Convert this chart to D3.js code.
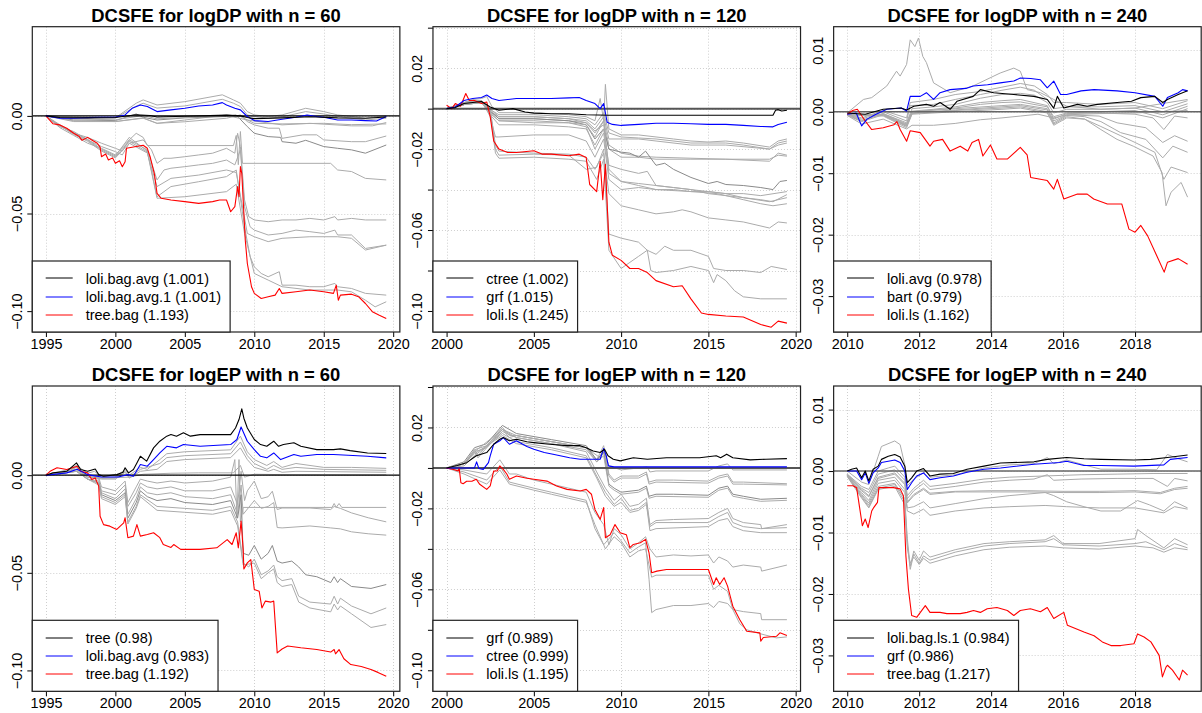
<!DOCTYPE html>
<html>
<head>
<meta charset="utf-8">
<script src="https://cdn.jsdelivr.net/npm/d3@7"></script>
<style>
  body { margin: 0; background: #fff; }
  svg { display: block; }
  text { font-family: "Liberation Sans", Arial, Helvetica, sans-serif; }
</style>
</head>
<body>
<div id="chart"></div>
<script>
// ---- titles, legends, ticks ----
const titles = [
  "DCSFE for logDP with n = 60", "DCSFE for logDP with n = 120", "DCSFE for logDP with n = 240",
  "DCSFE for logEP with n = 60", "DCSFE for logEP with n = 120", "DCSFE for logEP with n = 240"
];
const dp60Legend = ["loli.bag.avg (1.001)", "loli.bag.avg.1 (1.001)", "tree.bag (1.193)"];
const dp120Legend = ["ctree (1.002)", "grf (1.015)", "loli.ls (1.245)"];
const dp240Legend = ["loli.avg (0.978)", "bart (0.979)", "loli.ls (1.162)"];
const ep60Legend = ["tree (0.98)", "loli.bag.avg (0.983)", "tree.bag (1.192)"];
const ep120Legend = ["grf (0.989)", "ctree (0.999)", "loli.ls (1.195)"];
const ep240Legend = ["loli.bag.ls.1 (0.984)", "grf (0.986)", "tree.bag (1.217)"];

const xTicks60 = [1995, 2000, 2005, 2010, 2015, 2020];
const xTicks120 = [2000, 2005, 2010, 2015, 2020];
const xTicks240 = [2010, 2012, 2014, 2016, 2018];
const yTicks60 = [-0.10, -0.05, 0.00];
const yTicks120 = [-0.10, -0.08, -0.06, -0.04, -0.02, 0.00, 0.02, 0.04];
const yLabels120 = [-0.10, -0.06, -0.02, 0.02];
const yTicks240 = [-0.03, -0.02, -0.01, 0.00, 0.01];
const yLim60 = [-0.1049, 0.0399];
const yLim120 = [-0.1048, 0.0349];
const yLim240 = [-0.0340, 0.0120];

// ---- logDP, n = 60 ----
const dp60Best = [[1995,0],[1996,-0.0008],[1998,-0.0010],[2000,-0.0008],[2001.5,0.0006],[2002.5,0.0002],[2003,-0.0006],[2005,-0.0002],[2008,0.0004],[2009,0],[2009.5,-0.0008],[2010,-0.0014],[2012,-0.0010],[2014,-0.0004],[2016,-0.0010],[2018,-0.0012],[2019.5,-0.0006]];
const dp60Second = [[1995,0],[1996,-0.0012],[1997,-0.0012],[1998,-0.0009],[1999,-0.0007],[2000,-0.0007],[2000.7,0.0005],[2001.2,0.0039],[2001.8,0.0056],[2002.3,0.0048],[2003,0.0022],[2004,0.0031],[2005,0.0039],[2006,0.0051],[2007,0.0056],[2007.7,0.0068],[2008,0.0056],[2008.6,0.0039],[2009,0.0031],[2009.5,-0.0003],[2010,-0.0024],[2011,-0.0029],[2012,-0.0017],[2013,-0.0007],[2013.8,0.0005],[2014.5,-0.0003],[2015,-0.0007],[2016,-0.0021],[2017,-0.0021],[2018,-0.0024],[2018.8,-0.0026],[2019.5,-0.0003]];
const dp60Worst = [[1995,0],[1995.5,-0.0040],[1996,-0.0046],[1996.5,-0.0063],[1997,-0.0089],[1997.4,-0.0106],[1997.6,-0.0125],[1998,-0.0110],[1998.3,-0.0123],[1998.7,-0.0140],[1998.9,-0.0160],[1999,-0.0209],[1999.3,-0.0195],[1999.5,-0.0226],[1999.8,-0.0215],[2000,-0.0243],[2000.3,-0.0230],[2000.5,-0.0260],[2000.7,-0.0235],[2000.8,-0.0166],[2001.5,-0.0157],[2002,-0.0150],[2002.3,-0.0166],[2002.5,-0.0209],[2002.8,-0.0294],[2003,-0.0397],[2003.3,-0.0422],[2004,-0.0431],[2005,-0.0439],[2006,-0.0448],[2007,-0.0439],[2007.5,-0.0431],[2008,-0.0431],[2008.3,-0.0491],[2008.6,-0.0465],[2008.8,-0.0362],[2008.9,-0.0414],[2009.0,-0.0260],[2009.1,-0.0294],[2009.2,-0.0431],[2009.35,-0.0636],[2009.5,-0.0756],[2009.8,-0.0875],[2010,-0.0909],[2010.5,-0.0935],[2011,-0.0926],[2011.5,-0.0918],[2011.8,-0.0884],[2012,-0.0909],[2013,-0.0901],[2014,-0.0892],[2015,-0.0901],[2015.7,-0.0909],[2015.9,-0.0867],[2016.05,-0.0944],[2016.2,-0.0918],[2017,-0.0913],[2017.5,-0.0926],[2018,-0.0961],[2018.5,-0.1003],[2019,-0.1021],[2019.5,-0.1038]];
const dp60Gray = [
  [[1995,0],[1997,-0.0005],[2000,-0.0010],[2001.5,0.0065],[2002,0.0082],[2003,0.0056],[2005,0.0073],[2007.7,0.0108],[2008.5,0.0082],[2009,0.0065],[2009.5,0.0022],[2010,0.0005],[2011,-0.0003],[2012,0.0005],[2013.7,0.0039],[2015,0.0022],[2016,0.0005],[2017,-0.0003],[2018,-0.0012],[2019.5,0]],
  [[1995,0],[1997,-0.0008],[2000,-0.0012],[2001.5,0.0050],[2002,0.0065],[2003,0.0040],[2005,0.0051],[2007.7,0.0085],[2008.5,0.0065],[2009,0.0048],[2009.5,0.0005],[2010,-0.0003],[2011,-0.0012],[2012,-0.0005],[2013.7,0.0022],[2015,0.0010],[2016,-0.0003],[2018,-0.0021],[2019.5,-0.0012]],
  [[1995,0],[1997,-0.0029],[2000,-0.0029],[2002,-0.0012],[2003,-0.0038],[2005,-0.0021],[2008,0.0005],[2009,-0.0003],[2010,-0.0038],[2012,-0.0041],[2015,-0.0038],[2017,-0.0045],[2019.5,-0.0041]],
  [[1995,0],[1997,-0.0021],[2000,-0.0024],[2001.5,0.0010],[2002,-0.0007],[2003,-0.0021],[2005,-0.0010],[2008,-0.0003],[2008.7,0.0005],[2009.5,-0.0055],[2010,-0.0089],[2011,-0.0106],[2011.9,-0.0110],[2012,-0.0132],[2013,-0.0140],[2013.7,-0.0125],[2014,-0.0132],[2015,-0.0157],[2016,-0.0166],[2017,-0.0174],[2018,-0.0191],[2019.5,-0.0149]],
  [[1995,0],[1997,-0.0025],[2000,-0.0029],[2002,-0.0010],[2003,-0.0038],[2005,-0.0030],[2008,-0.0012],[2009,0.0005],[2009.5,-0.0029],[2010,-0.0046],[2011,-0.0063],[2011.8,-0.0063],[2012,-0.0115],[2013.5,-0.0097],[2014.5,-0.0097],[2015,-0.0123],[2017,-0.0132],[2018,-0.0132],[2019.5,-0.0103]],
  [[1995,0],[1997,-0.0015],[2000,-0.0020],[2002,0.0002],[2003,-0.0015],[2008,0.0002],[2009.5,-0.0021],[2012,-0.0046],[2014,-0.0038],[2017,-0.0051],[2018.5,-0.0051],[2019.5,-0.0034]],
  [[1995,0],[1996,-0.0050],[1997,-0.0089],[1998,-0.0110],[1999,-0.0140],[2000,-0.0166],[2000.5,-0.0180],[2001,-0.0123],[2001.5,-0.0089],[2002,-0.0110],[2002.3,-0.0152],[2008.5,-0.0152],[2008.7,-0.0100],[2008.85,-0.0250],[2009,-0.0080],[2009.15,-0.0243],[2015.5,-0.0243],[2016,-0.0277],[2017,-0.0285],[2018,-0.0320],[2019.5,-0.0328]],
  [[1995,0],[1996,-0.0055],[1997,-0.0080],[1998,-0.0123],[1999,-0.0157],[2000,-0.0183],[2000.5,-0.0200],[2001,-0.0140],[2002,-0.0123],[2002.6,-0.0174],[2003,-0.0243],[2003.5,-0.0217],[2004,-0.0217],[2005,-0.0209],[2006,-0.0200],[2007,-0.0191],[2008,-0.0166],[2008.6,-0.0191],[2008.8,-0.0089],[2009.0,-0.0157],[2009.3,-0.0431],[2009.6,-0.0516],[2010,-0.0533],[2011,-0.0542],[2012,-0.0533],[2013,-0.0533],[2014,-0.0525],[2015,-0.0533],[2015.8,-0.0516],[2016,-0.0533],[2017,-0.0525],[2018,-0.0533],[2019.5,-0.0533]],
  [[1995,0],[1996,-0.0060],[1997,-0.0100],[1998,-0.0140],[1999,-0.0166],[2000,-0.0200],[2001,-0.0123],[2002.3,-0.0174],[2003,-0.0328],[2003.5,-0.0277],[2004,-0.0268],[2005,-0.0260],[2006,-0.0251],[2007,-0.0243],[2008,-0.0226],[2008.6,-0.0251],[2009,-0.0174],[2009.3,-0.0465],[2009.7,-0.0568],[2010,-0.0585],[2011,-0.0610],[2012,-0.0602],[2013,-0.0585],[2014,-0.0593],[2015,-0.0602],[2015.8,-0.0585],[2016,-0.0610],[2017,-0.0610],[2018,-0.0679],[2019.5,-0.0662]],
  [[1995,0],[1996,-0.0050],[1997,-0.0095],[1998,-0.0130],[1999,-0.0180],[2000,-0.0215],[2001,-0.0140],[2002.3,-0.0190],[2003,-0.0362],[2004,-0.0320],[2006,-0.0303],[2008,-0.0277],[2008.7,-0.0290],[2009.5,-0.0602],[2010,-0.0619],[2011,-0.0644],[2012,-0.0627],[2014,-0.0619],[2016,-0.0619],[2017,-0.0627],[2018,-0.0687],[2019.5,-0.0662]],
  [[1995,0],[1996,-0.0045],[1997,-0.0085],[1998,-0.0120],[1999,-0.0170],[2000,-0.0205],[2001,-0.0110],[2002.3,-0.0180],[2003,-0.0414],[2004,-0.0362],[2006,-0.0337],[2008,-0.0311],[2008.7,-0.0277],[2009.3,-0.0568],[2009.7,-0.0721],[2010,-0.0773],[2010.5,-0.0807],[2011,-0.0824],[2011.8,-0.0798],[2012,-0.0867],[2013,-0.0867],[2014,-0.0875],[2015,-0.0875],[2015.8,-0.0858],[2016,-0.0875],[2017,-0.0884],[2018,-0.0909],[2019.5,-0.0918]],
  [[1995,0],[1996,-0.0050],[1997,-0.0090],[1998,-0.0125],[1999,-0.0175],[2000,-0.0210],[2001,-0.0130],[2002.3,-0.0185],[2003,-0.0422],[2005,-0.0414],[2008,-0.0388],[2008.7,-0.0350],[2009.3,-0.0602],[2010,-0.0807],[2011,-0.0841],[2012,-0.0875],[2014,-0.0892],[2016,-0.0892],[2017,-0.0901],[2018,-0.0944],[2018.7,-0.0978],[2019.5,-0.0952]]
];

// ---- logDP, n = 120 ----
const dp120Best = [[2000,0],[2000.5,0.0005],[2001,0.0025],[2001.5,0.003],[2002,0.0035],[2002.5,0.0008],[2003,-0.0008],[2003.8,0],[2004.5,-0.0017],[2005,-0.0022],[2006,-0.0025],[2007,-0.0025],[2008,-0.003],[2009.3,-0.0033],[2018.7,-0.0033],[2018.85,-0.0008],[2019,-0.0005],[2019.2,-0.0012],[2019.5,-0.0008]];
const dp120Second = [[2000,0],[2000.5,0.0008],[2001,0.004],[2001.5,0.005],[2002,0.0055],[2002.3,0.0067],[2002.6,0.005],[2003,0.004],[2004,0.005],[2005,0.005],[2006,0.005],[2007,0.0053],[2007.6,0.0055],[2008,0.004],[2008.5,0.0025],[2008.8,0],[2009,0.0025],[2009.2,-0.0067],[2009.5,-0.0078],[2010,-0.0083],[2011,-0.0078],[2012,-0.0072],[2013,-0.0072],[2014,-0.0075],[2015,-0.0078],[2016,-0.0078],[2017,-0.0083],[2018,-0.0088],[2018.7,-0.009],[2019,-0.0078],[2019.5,-0.0067]];
const dp120Worst = [[2000,0.0017],[2000.3,0],[2000.5,0.0025],[2000.8,0.0012],[2001.1,0.0075],[2001.3,0.004],[2001.6,0.004],[2002,0.0025],[2002.3,0.0033],[2002.5,-0.004],[2002.7,-0.016],[2003,-0.020],[2003.5,-0.0217],[2004,-0.0217],[2005,-0.0208],[2005.5,-0.0225],[2006,-0.0225],[2007,-0.0233],[2007.6,-0.0225],[2008,-0.0242],[2008.2,-0.0375],[2008.6,-0.041],[2008.8,-0.026],[2008.95,-0.045],[2009.1,-0.0275],[2009.3,-0.066],[2009.5,-0.0725],[2010,-0.075],[2010.5,-0.079],[2011,-0.079],[2011.5,-0.081],[2012,-0.085],[2013,-0.088],[2013.5,-0.0875],[2014,-0.094],[2014.6,-0.101],[2015,-0.1017],[2016,-0.1025],[2017,-0.103],[2018,-0.1067],[2018.6,-0.108],[2019,-0.105],[2019.5,-0.106]];
const dp120Gray = [
  [[2000,0],[2000.5,0.0005],[2001,0.003],[2001.5,0.0045],[2002,0.005],[2002.3,0.006],[2002.6,0.001],[2003,-0.002],[2005,-0.002],[2007,-0.003],[2008,-0.004],[2008.5,-0.006],[2008.8,0.005],[2009.0,-0.006],[2009.1,0.012],[2009.3,-0.010],[2010,-0.013],[2011,-0.013],[2012,-0.014],[2013,-0.015],[2014,-0.016],[2015,-0.0165],[2016,-0.016],[2017,-0.017],[2018.5,-0.019],[2019,-0.016],[2019.5,-0.015]],
  [[2000,0],[2001,0.002],[2002,0.004],[2002.6,-0.001],[2003,-0.003],[2005,-0.003],[2007,-0.004],[2008,-0.005],[2008.5,-0.008],[2009,-0.002],[2009.3,-0.012],[2010,-0.014],[2011,-0.0145],[2012,-0.015],[2014,-0.017],[2016,-0.017],[2017,-0.018],[2018.5,-0.020],[2019,-0.017],[2019.5,-0.016]],
  [[2000,0],[2001,0.002],[2002,0.003],[2002.6,-0.002],[2003,-0.004],[2005,-0.004],[2007,-0.005],[2008,-0.006],[2008.5,-0.010],[2009,-0.004],[2009.3,-0.015],[2010,-0.015],[2011,-0.015],[2012,-0.016],[2014,-0.018],[2016,-0.018],[2018.5,-0.020],[2019,-0.018],[2019.5,-0.017]],
  [[2000,0],[2001,0.002],[2002,0.003],[2002.6,-0.002],[2003,-0.005],[2005,-0.005],[2007,-0.006],[2008,-0.007],[2008.5,-0.011],[2009,-0.008],[2009.3,-0.020],[2010,-0.024],[2011,-0.024],[2012,-0.025],[2014,-0.025],[2016,-0.025],[2018.5,-0.026],[2019,-0.022],[2019.5,-0.023]],
  [[2000,0],[2001,0.0025],[2002,0.004],[2002.6,-0.001],[2003,-0.004],[2005,-0.004],[2007,-0.005],[2008,-0.007],[2008.5,-0.012],[2009,-0.006],[2009.3,-0.018],[2010,-0.022],[2011,-0.0235],[2012,-0.024],[2014,-0.0245],[2016,-0.025],[2018.5,-0.025],[2019,-0.023],[2019.5,-0.0235]],
  [[2000,0],[2001,0.002],[2002,0.0035],[2002.6,-0.002],[2003,-0.005],[2005,-0.005],[2007,-0.006],[2008,-0.008],[2008.5,-0.015],[2009,-0.010],[2009.3,-0.020],[2010,-0.0215],[2010.5,-0.022],[2011,-0.024],[2011.4,-0.021],[2012,-0.028],[2012.5,-0.027],[2013,-0.030],[2014,-0.034],[2015,-0.037],[2015.5,-0.036],[2016,-0.0375],[2017,-0.038],[2018,-0.039],[2018.7,-0.040],[2019.1,-0.036],[2019.5,-0.0355]],
  [[2000,0],[2001,0.003],[2002,0.004],[2002.5,-0.004],[2002.8,-0.014],[2003,-0.014],[2005,-0.013],[2007,-0.013],[2008,-0.016],[2008.5,-0.024],[2009,-0.015],[2009.3,-0.035],[2010,-0.040],[2011,-0.039],[2012,-0.040],[2013,-0.040],[2014,-0.041],[2015,-0.041],[2016,-0.042],[2017,-0.042],[2018,-0.043],[2019.5,-0.041]],
  [[2000,0],[2001,0.002],[2002,0.003],[2002.6,-0.003],[2003,-0.006],[2005,-0.007],[2007,-0.007],[2008,-0.009],[2008.5,-0.020],[2009,-0.012],[2009.3,-0.032],[2010,-0.036],[2011,-0.038],[2012,-0.040],[2014,-0.041],[2015.5,-0.042],[2016,-0.043],[2017,-0.044],[2018,-0.045],[2018.7,-0.046],[2019.5,-0.0425]],
  [[2000,0],[2001,0.002],[2002,0.003],[2002.6,-0.003],[2003,-0.006],[2005,-0.006],[2007,-0.007],[2008,-0.008],[2008.5,-0.014],[2009,-0.006],[2009.3,-0.030],[2010,-0.036],[2011,-0.037],[2012,-0.038],[2013,-0.039],[2015,-0.041],[2016,-0.042],[2017,-0.044],[2018.5,-0.046],[2019.5,-0.044]],
  [[2000,0],[2001,0.002],[2002,0.003],[2002.6,-0.004],[2003,-0.008],[2005,-0.008],[2007,-0.009],[2008,-0.010],[2008.5,-0.018],[2009,-0.010],[2009.3,-0.028],[2010,-0.030],[2011,-0.032],[2011.5,-0.031],[2012,-0.038],[2013,-0.039],[2014,-0.040],[2015,-0.042],[2016,-0.043],[2017,-0.045],[2018,-0.047],[2018.7,-0.048],[2019.5,-0.047]],
  [[2000,0],[2001,0.003],[2002,0.004],[2002.5,0],[2002.8,-0.018],[2003,-0.021],[2004,-0.0215],[2005,-0.022],[2007,-0.0225],[2008,-0.024],[2008.5,-0.030],[2009,-0.022],[2009.3,-0.042],[2010,-0.048],[2011,-0.050],[2012,-0.052],[2013,-0.051],[2013.5,-0.050],[2014,-0.051],[2015,-0.054],[2016,-0.055],[2017,-0.056],[2018.5,-0.059],[2019,-0.056],[2019.5,-0.0565]],
  [[2000,0],[2001,0.003],[2002,0.004],[2002.5,-0.001],[2002.8,-0.020],[2003,-0.023],[2005,-0.0225],[2007,-0.023],[2008,-0.030],[2008.6,-0.029],[2009,-0.020],[2009.3,-0.062],[2010,-0.064],[2011,-0.066],[2011.5,-0.070],[2012,-0.072],[2012.5,-0.068],[2013,-0.070],[2014,-0.070],[2015,-0.073],[2015.3,-0.079],[2016,-0.080],[2017,-0.080],[2018,-0.081],[2018.6,-0.078],[2019.5,-0.0795]],
  [[2000,0],[2001,0.003],[2002,0.004],[2002.5,-0.002],[2002.8,-0.022],[2003,-0.0245],[2005,-0.024],[2007,-0.025],[2008,-0.026],[2008.6,-0.035],[2009,-0.025],[2009.3,-0.070],[2010,-0.079],[2010.5,-0.076],[2011,-0.073],[2011.5,-0.070],[2011.7,-0.080],[2012,-0.081],[2013,-0.080],[2014,-0.078],[2015,-0.080],[2015.3,-0.086],[2015.5,-0.082],[2016,-0.085],[2016.5,-0.090],[2017,-0.093],[2018,-0.094],[2019.5,-0.094]]
];

// ---- logDP, n = 240 ----
const dp240Best = [[2010,-0.0002],[2010.5,-0.0004],[2011,0.0004],[2011.5,0.0006],[2011.65,0.0003],[2011.85,0.0009],[2012.2,0.0012],[2012.4,0.0009],[2012.58,0.0015],[2012.86,0.0004],[2013.05,0.0017],[2013.5,0.0025],[2013.7,0.0036],[2014.07,0.0031],[2014.63,0.0028],[2015.19,0.0025],[2015.56,0.0020],[2015.74,0.0006],[2015.84,0.0025],[2016.02,0.0006],[2016.4,0.0012],[2016.67,0.0009],[2016.95,0.0012],[2017.5,0.0015],[2017.9,0.0017],[2018.16,0.0023],[2018.55,0.0025],[2018.77,0.0015],[2018.9,0.0020],[2019.2,0.0028],[2019.46,0.0034]];
const dp240Second = [[2010,-0.0004],[2010.25,-0.0002],[2010.4,-0.0023],[2010.55,-0.0012],[2010.8,-0.0004],[2011.1,0.0004],[2011.5,0.0006],[2011.65,0.0001],[2011.75,0.0025],[2012.03,0.0025],[2012.2,0.0031],[2012.4,0.0020],[2012.58,0.0031],[2012.86,0.0036],[2013.3,0.0038],[2013.5,0.0042],[2013.9,0.0044],[2014.25,0.0047],[2014.63,0.0050],[2014.81,0.0055],[2015.1,0.0054],[2015.37,0.0052],[2015.56,0.0039],[2015.74,0.0050],[2015.93,0.0028],[2016.1,0.0028],[2016.5,0.0034],[2016.86,0.0036],[2017.5,0.0034],[2018,0.0031],[2018.55,0.0025],[2018.77,0.0009],[2018.9,0.0023],[2019.2,0.0031],[2019.32,0.0036],[2019.46,0.0034]];
const dp240Worst = [[2010,-0.0004],[2010.15,0.0002],[2010.28,0.0004],[2010.5,-0.0015],[2010.68,-0.0029],[2011,-0.0026],[2011.3,-0.0021],[2011.38,-0.0016],[2011.47,-0.0029],[2011.65,-0.0048],[2011.75,-0.0031],[2012.03,-0.0034],[2012.3,-0.0056],[2012.4,-0.0048],[2012.65,-0.0045],[2012.86,-0.0064],[2013.14,-0.0056],[2013.35,-0.0064],[2013.47,-0.0050],[2013.65,-0.0045],[2013.77,-0.0072],[2013.98,-0.0054],[2014.16,-0.0077],[2014.45,-0.0077],[2014.81,-0.0058],[2015.0,-0.0070],[2015.1,-0.0107],[2015.56,-0.0112],[2015.74,-0.0126],[2015.84,-0.0110],[2016.02,-0.0142],[2016.4,-0.0134],[2016.67,-0.0134],[2016.85,-0.0142],[2017.23,-0.0150],[2017.63,-0.0150],[2017.83,-0.0191],[2018,-0.0196],[2018.16,-0.0185],[2018.35,-0.0202],[2018.6,-0.0234],[2018.81,-0.0261],[2018.9,-0.0245],[2019.2,-0.0239],[2019.46,-0.0248]];
const dp240Gray = [
  [[2010,-0.0002],[2010.45,0.0020],[2010.68,0.0023],[2011.1,0.0042],[2011.37,0.0066],[2011.47,0.0058],[2011.65,0.0077],[2011.75,0.0117],[2011.88,0.0106],[2011.98,0.0120],[2012.1,0.0090],[2012.2,0.0080],[2012.4,0.0047],[2012.86,0.0031],[2013.5,0.0042],[2014.25,0.0063],[2014.63,0.0071],[2014.81,0.0066],[2015.0,0.0036],[2015.37,0.0031],[2015.74,0.0020],[2016.1,0.0009],[2017.05,0.0004],[2018,0.0006],[2019.46,0.0020]],
  [[2010,-0.0004],[2010.4,-0.0010],[2011,0.0002],[2011.65,-0.0010],[2011.75,0.0015],[2012.4,0.0020],[2013,0.0028],[2013.7,0.0033],[2014.3,0.0040],[2014.81,0.0046],[2015.2,0.0042],[2015.56,0.0028],[2015.74,0.0015],[2016.1,0.0015],[2017,0.0012],[2018,0.0015],[2018.77,0.0005],[2019.46,0.0018]],
  [[2010,-0.0004],[2010.4,-0.0012],[2011,0],[2011.65,-0.0015],[2011.75,0.0010],[2012.4,0.0012],[2013,0.0020],[2013.7,0.0028],[2014.3,0.0035],[2014.81,0.0040],[2015.2,0.0035],[2015.56,0.0020],[2015.74,0.0005],[2016.1,0.0008],[2017,0.0008],[2018,0.0010],[2018.77,0],[2019.46,0.0013]],
  [[2010,-0.0005],[2010.4,-0.0015],[2011,-0.0003],[2011.65,-0.0018],[2011.8,0.0005],[2012.4,0.0008],[2013,0.0012],[2013.7,0.0022],[2014.3,0.0028],[2014.81,0.0030],[2015.2,0.0027],[2015.56,0.0015],[2015.74,-0.0002],[2016.1,0.0004],[2017,0.0004],[2018,0.0006],[2018.77,-0.0005],[2019.46,0.0009]],
  [[2010,-0.0006],[2010.4,-0.0016],[2011,-0.0005],[2011.65,-0.0022],[2011.8,0],[2012.4,0.0003],[2013,0.0006],[2013.7,0.0012],[2014.3,0.0015],[2014.81,0.0016],[2015.56,0.0008],[2015.74,-0.0008],[2016.1,-0.0002],[2017,0],[2018,0.0002],[2018.77,-0.0010],[2019.46,0.0005]],
  [[2010,-0.0006],[2010.4,-0.0020],[2011,-0.0012],[2011.65,-0.0028],[2011.8,-0.0022],[2012.4,-0.0022],[2013,-0.0019],[2013.7,-0.0013],[2014.3,-0.0010],[2014.81,-0.0007],[2015.3,-0.0004],[2015.74,-0.0010],[2016.1,-0.0005],[2017,-0.0003],[2018,-0.0002],[2019.46,0.0002]],
  [[2010,-0.0004],[2010.4,-0.0014],[2011,-0.0003],[2011.65,-0.0020],[2011.8,0.0001],[2012.4,0.0004],[2013,0.0008],[2013.7,0.0015],[2014.3,0.0018],[2014.81,0.0020],[2015.56,0.0010],[2015.74,-0.0012],[2016.1,-0.0003],[2017,-0.0002],[2018,-0.0004],[2018.5,-0.0010],[2018.8,-0.0029],[2019.1,-0.0007],[2019.46,-0.0010]],
  [[2010,-0.0005],[2011,-0.0004],[2011.65,-0.0021],[2011.8,0],[2013,0.0005],[2014.3,0.0010],[2014.81,0.0012],[2015.56,0.0005],[2015.74,-0.0015],[2016.1,-0.0005],[2017,-0.0007],[2017.5,-0.0018],[2018.3,-0.0026],[2018.77,-0.0050],[2019.1,-0.0039],[2019.46,-0.0048]],
  [[2010,-0.0005],[2011,-0.0005],[2011.65,-0.0023],[2011.8,-0.0002],[2013,0.0003],[2014.3,0.0008],[2014.81,0.0010],[2015.56,0.0003],[2015.74,-0.0018],[2016.1,-0.0006],[2016.6,-0.0008],[2017.05,-0.0016],[2017.6,-0.0034],[2018.3,-0.0045],[2018.77,-0.0075],[2019.05,-0.0056],[2019.46,-0.0066]],
  [[2010,-0.0005],[2011,-0.0006],[2011.65,-0.0024],[2011.8,-0.0003],[2013,0.0002],[2014.3,0.0006],[2014.81,0.0008],[2015.56,0],[2015.74,-0.0020],[2016.1,-0.0008],[2016.6,-0.0012],[2017.05,-0.0024],[2017.6,-0.0039],[2018,-0.0050],[2018.55,-0.0066],[2018.8,-0.0110],[2019.0,-0.0090],[2019.46,-0.0099]],
  [[2010,-0.0005],[2011,-0.0007],[2011.65,-0.0026],[2011.8,-0.0004],[2013,0],[2014.3,0.0004],[2014.81,0.0006],[2015.56,-0.0002],[2015.74,-0.0022],[2016.1,-0.0010],[2016.6,-0.0012],[2017.05,-0.0029],[2017.5,-0.0045],[2017.95,-0.0056],[2018.5,-0.0072],[2018.75,-0.0099],[2018.86,-0.0153],[2019.0,-0.0131],[2019.28,-0.0115],[2019.46,-0.0139]]
];

// ---- logEP, n = 60 ----
const ep60Best = [[1995,0],[1995.5,0.0012],[1996.5,0.0020],[1997.2,0.0063],[1997.5,0.0029],[1998,0.0020],[1998.55,0.0032],[1998.8,0.0003],[1999.15,-0.0005],[2000.1,0.0003],[2000.55,0.0015],[2000.7,0.0038],[2000.95,0.0012],[2001.3,0.0029],[2001.55,0.0063],[2001.8,0.0097],[2002.25,0.0072],[2002.75,0.0140],[2003.2,0.0174],[2003.7,0.0200],[2004,0.0208],[2004.4,0.0200],[2004.9,0.0217],[2005.4,0.0200],[2006.1,0.0208],[2007.3,0.0208],[2008.3,0.0208],[2008.65,0.0242],[2008.9,0.0285],[2009.1,0.0340],[2009.25,0.0292],[2009.5,0.0242],[2010,0.0183],[2010.45,0.0157],[2010.9,0.0148],[2011.4,0.0174],[2011.75,0.0148],[2012.1,0.0157],[2012.85,0.0166],[2013.35,0.0148],[2014.5,0.0131],[2015.7,0.0131],[2016.2,0.0135],[2016.9,0.0126],[2018.15,0.0114],[2019.5,0.0111]];
const ep60Second = [[1995,0],[1996.5,0.0012],[1997.25,0.0030],[1998,0.0003],[1999,-0.0009],[2000.2,-0.0009],[2000.9,0.0003],[2001.3,-0.0005],[2001.8,0.0055],[2002.3,0.0046],[2002.75,0.0080],[2003.2,0.0114],[2003.7,0.0148],[2004.4,0.0140],[2004.9,0.0157],[2006.1,0.0148],[2008.3,0.0157],[2008.75,0.0183],[2009.05,0.0247],[2009.5,0.0174],[2010,0.0131],[2010.45,0.0097],[2010.9,0.0089],[2011.4,0.0114],[2011.9,0.0080],[2012.85,0.0106],[2013.35,0.0097],[2014.5,0.0106],[2015.7,0.0106],[2018.15,0.0097],[2019.5,0.0089]];
const ep60Worst = [[1995,0],[1995.3,0.0020],[1995.8,0.0038],[1996.5,0.0029],[1997.25,0.0046],[1997.5,0.0020],[1998,0.0012],[1998.3,-0.0022],[1998.55,-0.0014],[1998.8,-0.0056],[1998.9,-0.0210],[1999.15,-0.0253],[1999.6,-0.0261],[2000.1,-0.0278],[2000.6,-0.0244],[2000.7,-0.0218],[2000.9,-0.0320],[2001.3,-0.0312],[2001.55,-0.0253],[2001.8,-0.0312],[2002.3,-0.0304],[2002.75,-0.0295],[2003.2,-0.0320],[2003.45,-0.0355],[2004,-0.0370],[2004.2,-0.0355],[2004.7,-0.0380],[2006.1,-0.0380],[2007.3,-0.0372],[2008.05,-0.0330],[2008.4,-0.0355],[2008.7,-0.0295],[2008.85,-0.0372],[2009.05,-0.0235],[2009.2,-0.0380],[2009.25,-0.0480],[2009.5,-0.0449],[2009.75,-0.0432],[2010,-0.0585],[2010.35,-0.0594],[2010.55,-0.0680],[2010.8,-0.0645],[2011.2,-0.0650],[2011.4,-0.0645],[2011.65,-0.0910],[2012,-0.0890],[2012.4,-0.0875],[2013.35,-0.0884],[2014.5,-0.0893],[2015.5,-0.0906],[2015.75,-0.0893],[2015.85,-0.0915],[2016.1,-0.0893],[2016.45,-0.0940],[2016.95,-0.0970],[2017.7,-0.0980],[2018.4,-0.0995],[2018.9,-0.1010],[2019.5,-0.1030]];
const ep60Gray = [
  [[1995,0],[1996,0.001],[1997.2,0.005],[1998,0.001],[1998.5,0.002],[1999,-0.001],[2000,-0.001],[2000.7,0.003],[2001,0],[2001.8,0.004],[2002.3,0.003],[2003.2,0.008],[2003.7,0.011],[2005,0.012],[2008.3,0.013],[2009,0.020],[2009.5,0.012],[2010,0.008],[2010.9,0.005],[2011.4,0.007],[2012,0.004],[2013,0.006],[2015,0.004],[2017,0.004],[2019.5,0.0035]],
  [[1995,0],[1996,0.0005],[1997.2,0.004],[1998,0],[1999,-0.0015],[2000,-0.0015],[2000.7,0.002],[2001,-0.001],[2001.8,0.003],[2003.2,0.006],[2003.7,0.009],[2005,0.010],[2008.3,0.011],[2009,0.017],[2009.5,0.010],[2010,0.006],[2010.9,0.003],[2011.4,0.005],[2012,0.003],[2013,0.004],[2015,0.003],[2019.5,0.0025]],
  [[1995,0],[1997.2,0.003],[1998,-0.0005],[1999,-0.002],[2000,-0.002],[2000.7,0.0015],[2001,-0.0015],[2001.8,0.002],[2003,0.003],[2003.7,0.007],[2005,0.008],[2008.3,0.009],[2009,0.014],[2009.5,0.008],[2010,0.004],[2011,0.002],[2011.4,0.003],[2012,0.0015],[2013,0.002],[2019.5,0.0015]],
  [[1995,0],[1997.2,0.002],[1998,-0.001],[1999,-0.0015],[2001,-0.001],[2002,0.0005],[2004,0.001],[2006,0.0012],[2008.5,0.0012],[2009,0.005],[2009.3,-0.001],[2010,0.0005],[2012,0.0003],[2019.5,0.0002]],
  [[1995,0],[1997.2,0.004],[1998,0],[1998.8,-0.001],[1999,-0.006],[2000,-0.008],[2000.7,-0.003],[2000.9,-0.014],[2001.5,-0.006],[2001.8,-0.002],[2002.3,-0.003],[2003,-0.004],[2004,-0.003],[2005,-0.004],[2007,-0.003],[2008.3,-0.001],[2008.6,0.008],[2008.75,-0.022],[2008.9,0.008],[2009.0,-0.024],[2009.2,-0.0165],[2015.6,-0.0165],[2015.75,-0.0145],[2015.9,-0.0165],[2016.1,-0.0145],[2016.3,-0.0165],[2019.5,-0.0165]],
  [[1995,0],[1997.2,0.003],[1998,-0.001],[1998.8,-0.002],[1999,-0.008],[2000,-0.010],[2000.7,-0.005],[2000.9,-0.016],[2001.5,-0.009],[2001.8,-0.004],[2002.3,-0.006],[2003,-0.007],[2004,-0.006],[2005,-0.008],[2007,-0.008],[2008.3,-0.006],[2008.8,-0.015],[2009.05,0.002],[2009.3,-0.013],[2009.5,-0.008],[2010,-0.003],[2010.5,-0.012],[2011,-0.011],[2011.3,-0.0082],[2011.65,-0.0176],[2012,-0.0168],[2014,-0.0168],[2015.5,-0.0176],[2015.75,-0.016],[2016.2,-0.017],[2017,-0.0193],[2018.2,-0.0218],[2019.5,-0.0239]],
  [[1995,0],[1997.2,0.003],[1998,-0.002],[1998.8,-0.003],[1999,-0.009],[2000,-0.012],[2000.7,-0.007],[2000.9,-0.020],[2001.5,-0.012],[2001.8,-0.006],[2002.3,-0.009],[2003,-0.010],[2004,-0.009],[2005,-0.011],[2007,-0.012],[2008.3,-0.010],[2008.8,-0.020],[2009.05,-0.005],[2009.2,-0.020],[2010,-0.013],[2010.5,-0.017],[2011,-0.016],[2011.4,-0.014],[2011.65,-0.0268],[2012,-0.027],[2014,-0.026],[2015.5,-0.027],[2016.2,-0.0275],[2017,-0.029],[2018.2,-0.030],[2019.5,-0.0307]],
  [[1995,0],[1997.2,0.002],[1998,-0.002],[1998.8,-0.004],[1999,-0.010],[2000,-0.013],[2000.7,-0.009],[2000.9,-0.022],[2001.5,-0.014],[2001.8,-0.008],[2002.3,-0.011],[2003,-0.013],[2004,-0.012],[2005,-0.014],[2007,-0.015],[2008.3,-0.013],[2008.8,-0.022],[2009.05,-0.010],[2009.2,-0.040],[2009.6,-0.041],[2010,-0.036],[2010.5,-0.043],[2011,-0.040],[2011.3,-0.036],[2011.65,-0.044],[2012,-0.045],[2012.7,-0.044],[2013.2,-0.047],[2013.7,-0.051],[2014.5,-0.052],[2015.5,-0.055],[2015.75,-0.052],[2016,-0.055],[2016.2,-0.053],[2017,-0.057],[2018.4,-0.058],[2019.5,-0.056]],
  [[1995,0],[1997.2,0.002],[1998,-0.002],[1998.8,-0.004],[1999,-0.011],[2000,-0.014],[2000.7,-0.010],[2000.9,-0.024],[2001.5,-0.016],[2001.8,-0.010],[2003,-0.016],[2005,-0.017],[2007,-0.018],[2008.3,-0.016],[2008.8,-0.024],[2009.2,-0.045],[2009.6,-0.047],[2010,-0.043],[2010.5,-0.051],[2011,-0.049],[2011.4,-0.046],[2011.65,-0.052],[2012,-0.054],[2012.7,-0.053],[2013.2,-0.062],[2014,-0.065],[2015.5,-0.066],[2015.75,-0.062],[2016,-0.066],[2016.2,-0.063],[2017,-0.067],[2018.4,-0.071],[2019.5,-0.068]],
  [[1995,0],[1997.2,0.002],[1998,-0.002],[1998.8,-0.005],[1999,-0.012],[2000,-0.015],[2000.7,-0.011],[2000.9,-0.025],[2001.5,-0.017],[2001.8,-0.011],[2003,-0.018],[2005,-0.019],[2007,-0.020],[2008.3,-0.018],[2008.8,-0.026],[2009.2,-0.046],[2010,-0.045],[2010.5,-0.053],[2011,-0.050],[2011.4,-0.048],[2011.65,-0.055],[2012,-0.057],[2012.7,-0.056],[2013.2,-0.065],[2014,-0.068],[2015.5,-0.070],[2015.75,-0.066],[2016,-0.069],[2016.2,-0.067],[2017,-0.071],[2018.4,-0.078],[2019.5,-0.0765]]
];

// ---- logEP, n = 120 ----
const ep120Best = [[2000,0],[2000.6,0.0012],[2001.15,0.0026],[2001.7,0.0060],[2002.3,0.0076],[2002.7,0.0117],[2003.05,0.0142],[2003.25,0.0150],[2003.6,0.0134],[2004,0.0142],[2004.6,0.0129],[2005,0.0125],[2005.9,0.0117],[2006.9,0.0110],[2007.65,0.0110],[2008,0.0100],[2008.4,0.0084],[2008.8,0.0076],[2009.05,0.0092],[2009.25,0.0060],[2009.55,0.0043],[2009.95,0.0035],[2010.7,0.0050],[2011.5,0.0043],[2012.6,0.0050],[2014.5,0.0050],[2015.45,0.0060],[2015.7,0.0050],[2016.05,0.0068],[2016.4,0.0050],[2017.4,0.0040],[2018.3,0.0043],[2019.5,0.0046]];
const ep120Second = [[2000,0],[2001.6,0],[2001.72,0.0030],[2001.85,-0.0003],[2002.1,-0.0007],[2002.4,0.0026],[2002.5,0.0060],[2002.7,0.0117],[2003.05,0.0134],[2003.25,0.0150],[2003.6,0.0117],[2004,0.0134],[2004.6,0.0106],[2005,0.0092],[2005.6,0.0076],[2006.1,0.0068],[2007.05,0.0050],[2007.65,0.0043],[2008.8,0.0043],[2009.0,0.0096],[2009.15,0.0060],[2009.27,0.0010],[2009.6,0.0005],[2019.5,0.0005]];
const ep120Worst = [[2000,0],[2000.4,-0.0008],[2000.67,-0.0015],[2000.72,0],[2000.82,-0.0073],[2000.95,-0.0078],[2001.15,-0.0066],[2001.45,-0.0066],[2001.7,-0.0056],[2001.9,-0.0081],[2002.3,-0.0106],[2002.5,-0.0089],[2002.7,-0.0015],[2002.9,-0.0015],[2003.05,0.0010],[2003.25,-0.0007],[2003.45,-0.0030],[2003.6,-0.0056],[2004,-0.0040],[2004.6,-0.0051],[2005,-0.0056],[2005.75,-0.0065],[2006.3,-0.0089],[2006.9,-0.0106],[2007.65,-0.0114],[2008,-0.0106],[2008.3,-0.0130],[2008.5,-0.0205],[2008.8,-0.0254],[2009,-0.0196],[2009.1,-0.0345],[2009.37,-0.0330],[2009.65,-0.0280],[2009.95,-0.0320],[2010.3,-0.0330],[2010.5,-0.0394],[2010.7,-0.0378],[2011.1,-0.0370],[2011.4,-0.0353],[2011.6,-0.0420],[2011.75,-0.0518],[2012.05,-0.0510],[2012.6,-0.0502],[2014,-0.0502],[2015,-0.0502],[2015.3,-0.0576],[2015.45,-0.0543],[2015.65,-0.0576],[2015.9,-0.0543],[2016.1,-0.0584],[2016.4,-0.0683],[2016.8,-0.0750],[2017.2,-0.0807],[2017.95,-0.0815],[2018.0,-0.0856],[2018.15,-0.0838],[2018.9,-0.0832],[2019.1,-0.0815],[2019.5,-0.0828]];
const ep120Gray = [
  [[2000,0],[2001,0.002],[2001.6,0.008],[2001.8,0.005],[2002.3,0.010],[2003.2,0.019],[2003.6,0.015],[2004,0.016],[2006,0.013],[2008,0.010],[2008.8,0.005],[2009.05,0.008],[2009.3,0.001],[2010,-0.001],[2011,0],[2011.5,0.0005],[2011.65,-0.002],[2012,-0.0015],[2015,-0.0015],[2015.6,0.001],[2016.1,0.002],[2016.4,-0.001],[2019.5,-0.001]],
  [[2000,0],[2001,0.002],[2001.6,0.009],[2001.8,0.006],[2002.3,0.011],[2003.2,0.020],[2003.6,0.016],[2004,0.016],[2006,0.013],[2008,0.010],[2008.6,0.004],[2009,0.011],[2009.3,-0.003],[2009.6,-0.006],[2010,-0.004],[2011,-0.004],[2011.45,-0.002],[2011.6,-0.007],[2012,-0.006],[2013,-0.006],[2015,-0.0065],[2015.6,-0.004],[2016.1,-0.003],[2016.4,-0.007],[2017,-0.007],[2019.5,-0.0078]],
  [[2000,0],[2001,0.002],[2001.6,0.008],[2002.3,0.010],[2003.2,0.018],[2004,0.015],[2006,0.012],[2008,0.009],[2008.6,0.003],[2009,0.009],[2009.3,-0.004],[2009.6,-0.007],[2010,-0.005],[2011,-0.005],[2011.45,-0.003],[2011.6,-0.008],[2012,-0.007],[2015,-0.0075],[2015.6,-0.005],[2016.1,-0.004],[2016.4,-0.008],[2017,-0.008],[2019.5,-0.0084]],
  [[2000,0],[2001,0.003],[2001.6,0.010],[2002.3,0.012],[2003.2,0.021],[2004,0.017],[2006,0.014],[2008,0.011],[2008.6,0.004],[2009,0.008],[2009.3,-0.008],[2009.6,-0.010],[2010,-0.012],[2011,-0.011],[2011.45,-0.009],[2011.6,-0.014],[2012,-0.013],[2013,-0.013],[2015,-0.0135],[2015.6,-0.010],[2016.1,-0.009],[2016.4,-0.013],[2017,-0.014],[2018,-0.0155],[2019.5,-0.015]],
  [[2000,0],[2001,0.002],[2001.6,0.009],[2002.3,0.011],[2003.2,0.019],[2004,0.016],[2006,0.013],[2008,0.010],[2008.6,0.003],[2009,0.006],[2009.3,-0.009],[2009.6,-0.011],[2010,-0.013],[2011,-0.012],[2011.45,-0.010],[2011.6,-0.015],[2012,-0.014],[2015,-0.0145],[2015.6,-0.011],[2016.1,-0.010],[2016.4,-0.014],[2017,-0.015],[2018,-0.0165],[2019.5,-0.016]],
  [[2000,0],[2001,0.002],[2001.6,0.008],[2003.2,0.019],[2004,0.015],[2006,0.012],[2008,0.008],[2008.6,-0.002],[2009.1,-0.010],[2009.6,-0.016],[2010,-0.013],[2010.5,-0.019],[2011,-0.018],[2011.45,-0.015],[2011.65,-0.028],[2012,-0.026],[2013,-0.0255],[2015,-0.025],[2015.6,-0.022],[2016.1,-0.020],[2016.4,-0.025],[2017,-0.027],[2018,-0.028],[2018.05,-0.030],[2019.5,-0.028]],
  [[2000,0],[2001,0.001],[2001.6,0.006],[2003.2,0.017],[2004,0.013],[2006,0.010],[2008,0.006],[2008.6,-0.004],[2009.1,-0.012],[2009.6,-0.018],[2010,-0.015],[2010.5,-0.021],[2011,-0.020],[2011.45,-0.017],[2011.65,-0.029],[2012,-0.027],[2015,-0.027],[2015.6,-0.024],[2016.1,-0.022],[2016.4,-0.027],[2017,-0.029],[2018,-0.030],[2019.5,-0.0295]],
  [[2000,0],[2001,0.002],[2001.6,0.007],[2003.2,0.016],[2004,0.012],[2006,0.009],[2008,0.005],[2008.6,-0.005],[2009.1,-0.014],[2009.6,-0.019],[2010,-0.017],[2010.5,-0.022],[2011,-0.021],[2011.45,-0.018],[2011.65,-0.031],[2012,-0.030],[2015,-0.029],[2015.6,-0.026],[2016.1,-0.025],[2016.4,-0.029],[2017,-0.031],[2018,-0.032],[2019.5,-0.032]],
  [[2000,0],[2001,-0.001],[2002.3,-0.003],[2003.05,0.004],[2003.6,-0.003],[2004,-0.003],[2005,-0.006],[2006,-0.008],[2007,-0.010],[2008,-0.012],[2008.5,-0.022],[2009,-0.028],[2009.3,-0.038],[2009.6,-0.030],[2010,-0.033],[2010.5,-0.040],[2011,-0.037],[2011.4,-0.034],[2011.65,-0.040],[2012,-0.044],[2013,-0.043],[2014,-0.0435],[2015,-0.043],[2015.3,-0.047],[2015.6,-0.044],[2016.1,-0.046],[2016.4,-0.049],[2017,-0.048],[2018,-0.049],[2018.05,-0.051],[2019.5,-0.048]],
  [[2000,0],[2001,-0.002],[2002.3,-0.006],[2003.05,0.001],[2003.6,-0.007],[2005,-0.010],[2006,-0.012],[2007,-0.014],[2008,-0.016],[2008.5,-0.030],[2009,-0.038],[2009.6,-0.032],[2010,-0.036],[2010.5,-0.042],[2011,-0.039],[2011.4,-0.037],[2011.6,-0.055],[2011.75,-0.0715],[2012,-0.070],[2013,-0.068],[2014,-0.068],[2015,-0.067],[2015.3,-0.069],[2015.6,-0.066],[2016.1,-0.067],[2016.4,-0.070],[2017,-0.071],[2018,-0.072],[2018.05,-0.075],[2019.5,-0.075]],
  [[2000,0],[2001,-0.003],[2002.3,-0.008],[2003.05,-0.001],[2003.6,-0.008],[2005,-0.011],[2006,-0.013],[2007,-0.015],[2008,-0.017],[2008.5,-0.028],[2009.1,-0.040],[2009.6,-0.034],[2010,-0.037],[2010.5,-0.044],[2011,-0.041],[2011.4,-0.040],[2011.75,-0.054],[2012,-0.053],[2015,-0.053],[2015.3,-0.060],[2015.6,-0.058],[2016.1,-0.061],[2016.4,-0.070],[2016.8,-0.077],[2017.2,-0.080],[2018,-0.082],[2018.9,-0.084],[2019.5,-0.0835]]
];

// ---- logEP, n = 240 ----
const ep240Best = [[2010,0],[2010.12,0.0003],[2010.26,0.0005],[2010.4,-0.0011],[2010.5,0],[2010.6,-0.0016],[2010.72,0.0003],[2010.86,0.0008],[2010.95,0.0019],[2011.14,0.0024],[2011.32,0.0027],[2011.47,0.0023],[2011.6,0.0008],[2011.67,-0.0019],[2011.79,-0.0011],[2011.93,0],[2012.12,0.0004],[2012.3,-0.0008],[2012.58,-0.0005],[2012.95,-0.0004],[2013.33,0.0003],[2013.8,0.0008],[2014.26,0.0013],[2015.19,0.0015],[2015.56,0.0019],[2016.1,0.0022],[2016.58,0.0020],[2017.05,0.0019],[2017.97,0.0018],[2018.44,0.0019],[2018.9,0.0022],[2019.46,0.0026]];
const ep240Second = [[2010,0],[2010.26,0],[2010.4,-0.0014],[2010.5,-0.0003],[2010.6,-0.0020],[2010.72,-0.0003],[2010.86,0.0005],[2010.95,0.0014],[2011.14,0.0016],[2011.32,0.0018],[2011.47,0.0014],[2011.6,0],[2011.67,-0.0030],[2011.79,-0.0019],[2011.93,-0.0008],[2012.12,-0.0003],[2012.3,-0.0014],[2012.58,-0.0011],[2012.95,-0.0008],[2013.33,-0.0002],[2013.8,0.0003],[2014.26,0.0005],[2015.19,0.0011],[2015.9,0.0014],[2016.1,0.0016],[2016.58,0.0009],[2017.05,0.0009],[2017.97,0.0008],[2018.8,0.0010],[2018.98,0.0019],[2019.46,0.0022]];
const ep240Worst = [[2010,-0.0024],[2010.16,-0.0024],[2010.26,-0.0027],[2010.35,-0.0062],[2010.42,-0.0089],[2010.5,-0.0078],[2010.58,-0.0092],[2010.68,-0.0065],[2010.74,-0.0059],[2010.84,-0.0051],[2010.88,-0.0027],[2011.0,-0.0027],[2011.28,-0.0027],[2011.47,-0.0029],[2011.56,-0.0040],[2011.63,-0.0138],[2011.7,-0.0192],[2011.79,-0.0235],[2011.93,-0.0238],[2012.17,-0.0219],[2012.3,-0.0230],[2012.58,-0.0230],[2012.77,-0.0232],[2013.14,-0.0232],[2013.33,-0.0230],[2013.51,-0.0227],[2013.7,-0.0230],[2013.89,-0.0224],[2014.16,-0.0222],[2014.45,-0.0227],[2014.63,-0.0235],[2014.81,-0.0227],[2015.09,-0.0224],[2015.37,-0.0229],[2015.56,-0.0222],[2015.74,-0.0240],[2016.02,-0.0230],[2016.12,-0.0251],[2016.58,-0.0262],[2016.86,-0.0268],[2017.09,-0.0278],[2017.33,-0.0284],[2017.6,-0.0284],[2017.97,-0.0281],[2018.07,-0.0265],[2018.25,-0.0270],[2018.44,-0.0278],[2018.67,-0.0300],[2018.76,-0.0335],[2018.86,-0.0319],[2018.9,-0.0316],[2019.04,-0.0324],[2019.23,-0.0340],[2019.32,-0.0324],[2019.46,-0.0332]];
const ep240Gray = [
  [[2010,0],[2010.4,-0.0018],[2010.6,-0.0022],[2010.86,0.0024],[2010.95,0.0040],[2011.32,0.0049],[2011.47,0.0043],[2011.6,0.0010],[2011.67,-0.0024],[2011.85,-0.0013],[2012.2,0],[2012.3,-0.0010],[2013,-0.0006],[2013.8,0.0005],[2014.5,0.0010],[2015.19,0.0012],[2015.56,0.0022],[2015.74,0.0012],[2016.1,0.0018],[2016.58,0.0010],[2017.05,0.0003],[2018,0.0003],[2018.6,0.0002],[2018.9,0.0027],[2019.2,0.0020],[2019.46,0.0015]],
  [[2010,-0.0005],[2010.4,-0.0025],[2010.6,-0.0030],[2010.86,0],[2011.14,0.0005],[2011.32,0.0008],[2011.6,-0.0010],[2011.67,-0.0040],[2011.85,-0.0028],[2012.12,-0.0015],[2012.3,-0.0025],[2013,-0.0020],[2013.8,-0.0013],[2014.5,-0.0010],[2015.5,-0.0008],[2016.5,-0.0006],[2017.5,-0.0005],[2018.5,-0.0004],[2019.46,-0.0004]],
  [[2010,-0.0005],[2010.4,-0.0028],[2010.6,-0.0035],[2010.86,-0.0005],[2011.32,0.0002],[2011.6,-0.0015],[2011.67,-0.0045],[2011.85,-0.0032],[2012.12,-0.0020],[2012.3,-0.0030],[2013,-0.0025],[2013.8,-0.0018],[2014.5,-0.0015],[2015.19,-0.0013],[2015.56,-0.0006],[2015.74,-0.0015],[2016.5,-0.0013],[2017.5,-0.0012],[2018.5,-0.0012],[2018.9,-0.0025],[2019.1,-0.0012],[2019.46,-0.0016]],
  [[2010,-0.0006],[2010.4,-0.0030],[2010.6,-0.0040],[2010.86,-0.0010],[2011.32,-0.0003],[2011.6,-0.0020],[2011.67,-0.0050],[2011.85,-0.0038],[2012.12,-0.0028],[2012.3,-0.0036],[2013,-0.0033],[2014,-0.0032],[2015,-0.0032],[2016,-0.0033],[2017,-0.0033],[2018,-0.0032],[2018.7,-0.0035],[2019.1,-0.0028],[2019.46,-0.0025]],
  [[2010,-0.0006],[2010.4,-0.0032],[2010.6,-0.0042],[2010.86,-0.0012],[2011.32,-0.0005],[2011.6,-0.0022],[2011.67,-0.0052],[2011.85,-0.0040],[2012.12,-0.0030],[2012.3,-0.0038],[2013,-0.0034],[2014,-0.0034],[2015,-0.0034],[2016,-0.0035],[2017,-0.0035],[2018,-0.0034],[2018.7,-0.0037],[2019.1,-0.0030],[2019.46,-0.0028]],
  [[2010,-0.0007],[2010.4,-0.0035],[2010.6,-0.0048],[2010.86,-0.0015],[2011.32,-0.0010],[2011.6,-0.0030],[2011.67,-0.0060],[2011.85,-0.0058],[2012.12,-0.0050],[2012.3,-0.0060],[2013,-0.0053],[2013.8,-0.0045],[2014.5,-0.0040],[2015.5,-0.0035],[2015.74,-0.0040],[2016.1,-0.0050],[2016.58,-0.0058],[2017.05,-0.0065],[2017.6,-0.0065],[2018.07,-0.0048],[2018.4,-0.0055],[2018.8,-0.0065],[2019.1,-0.0050],[2019.46,-0.0060]],
  [[2010,-0.0007],[2010.4,-0.0038],[2010.6,-0.0052],[2010.86,-0.0020],[2011.32,-0.0015],[2011.6,-0.0035],[2011.67,-0.0065],[2011.85,-0.0070],[2012.12,-0.0062],[2012.3,-0.0072],[2013,-0.0065],[2013.8,-0.0060],[2014.5,-0.0058],[2015.5,-0.0056],[2016.1,-0.0058],[2017,-0.0060],[2018,-0.0060],[2018.8,-0.0068],[2019.1,-0.0058],[2019.46,-0.0062]],
  [[2010,-0.0008],[2010.4,-0.0040],[2010.6,-0.0055],[2010.86,-0.0025],[2011.32,-0.0020],[2011.6,-0.0045],[2011.67,-0.0110],[2011.75,-0.0155],[2011.85,-0.0130],[2012,-0.0145],[2012.12,-0.0130],[2012.3,-0.0140],[2013,-0.0128],[2013.8,-0.0118],[2014.5,-0.0115],[2015.5,-0.0112],[2015.74,-0.0105],[2016,-0.0118],[2017,-0.0118],[2018,-0.0110],[2018.07,-0.0095],[2018.3,-0.0105],[2018.8,-0.0125],[2019.1,-0.0110],[2019.46,-0.0120]],
  [[2010,-0.0008],[2010.4,-0.0042],[2010.6,-0.0058],[2010.86,-0.0028],[2011.32,-0.0022],[2011.6,-0.0050],[2011.67,-0.0120],[2011.75,-0.0160],[2011.85,-0.0135],[2012,-0.0150],[2012.12,-0.0138],[2012.3,-0.0145],[2013,-0.0132],[2013.8,-0.0122],[2014.5,-0.0118],[2015.5,-0.0115],[2015.74,-0.0110],[2016,-0.0120],[2017,-0.0122],[2018,-0.0118],[2018.3,-0.0115],[2018.8,-0.0128],[2019.1,-0.0118],[2019.46,-0.0125]],
  [[2010,-0.0009],[2010.4,-0.0044],[2010.6,-0.0060],[2010.86,-0.0030],[2011.32,-0.0025],[2011.6,-0.0055],[2011.67,-0.0125],[2011.75,-0.0150],[2011.85,-0.0140],[2012,-0.0152],[2012.12,-0.0142],[2012.3,-0.0150],[2013,-0.0138],[2013.8,-0.0128],[2014.5,-0.0124],[2015.5,-0.0122],[2016,-0.0125],[2017,-0.0127],[2018,-0.0122],[2018.5,-0.0125],[2018.8,-0.0132],[2019.1,-0.0125],[2019.46,-0.0128]]
];

// ---- panel setup ----
const panels = [
  { row: 0, col: 0, title: titles[0], gray: dp60Gray, best: dp60Best, second: dp60Second, worst: dp60Worst, legend: dp60Legend, xTicks: xTicks60, yTicks: yTicks60, yLabels: yTicks60, yLim: yLim60, zeroCol: "#000", zeroW: 1.3, darker: [3] },
  { row: 0, col: 1, title: titles[1], gray: dp120Gray, best: dp120Best, second: dp120Second, worst: dp120Worst, legend: dp120Legend, xTicks: xTicks120, yTicks: yTicks120, yLabels: yLabels120, yLim: yLim120, zeroCol: "#555", zeroW: 2, darker: [5] },
  { row: 0, col: 2, title: titles[2], gray: dp240Gray, best: dp240Best, second: dp240Second, worst: dp240Worst, legend: dp240Legend, xTicks: xTicks240, yTicks: yTicks240, yLabels: yTicks240, yLim: yLim240, zeroCol: "#666", zeroW: 1.6, darker: [] },
  { row: 1, col: 0, title: titles[3], gray: ep60Gray, best: ep60Best, second: ep60Second, worst: ep60Worst, legend: ep60Legend, xTicks: xTicks60, yTicks: yTicks60, yLabels: yTicks60, yLim: yLim60, zeroCol: "#000", zeroW: 1.3, darker: [7] },
  { row: 1, col: 1, title: titles[4], gray: ep120Gray, best: ep120Best, second: ep120Second, worst: ep120Worst, legend: ep120Legend, xTicks: xTicks120, yTicks: yTicks120, yLabels: yLabels120, yLim: yLim120, zeroCol: "#555", zeroW: 2, darker: [3] },
  { row: 1, col: 2, title: titles[5], gray: ep240Gray, best: ep240Best, second: ep240Second, worst: ep240Worst, legend: ep240Legend, xTicks: xTicks240, yTicks: yTicks240, yLabels: yTicks240, yLim: yLim240, zeroCol: "#666", zeroW: 1.6, darker: [] }
];

const W = 1202, H = 713;
const colW = W / 3;
const rowTop = [26.7, 386];
const plotH = 305.3;
const marginL = 32.3, marginR = 0.8;
const fontTick = 14.4, fontTitle = 18.4, fontLegend = 14.5;

const svg = d3.select("#chart").append("svg")
  .attr("width", W).attr("height", H)
  .style("background", "#fff");

const fmt = d3.format(".2f");
const label = v => fmt(v).replace("-", "\u2212");

panels.forEach((p, i) => {
  const left = p.col * colW + marginL;
  const right = (p.col + 1) * colW - marginR;
  const top = rowTop[p.row];
  const bottom = top + plotH;

  // R-style 4% padding around the data range
  const allSeries = [p.best, p.second, p.worst].concat(p.gray);
  const yrs = d3.extent(allSeries.flat(), d => d[0]);
  const xPad = (yrs[1] - yrs[0]) * 0.04;
  const x = d3.scaleLinear().domain([yrs[0] - xPad, yrs[1] + xPad]).range([left, right]);
  const yPad = (p.yLim[1] - p.yLim[0]) * 0.04;
  const y = d3.scaleLinear().domain([p.yLim[0] - yPad, p.yLim[1] + yPad]).range([bottom, top]);

  const g = svg.append("g");
  const clipId = "clip" + i;
  g.append("clipPath").attr("id", clipId)
    .append("rect").attr("x", left).attr("y", top).attr("width", right - left).attr("height", plotH);

  // grid
  const grid = g.append("g").attr("stroke", "#cfcfcf").attr("stroke-width", 1).attr("stroke-dasharray", "1,2");
  grid.selectAll("line.gx").data(p.xTicks).enter().append("line")
    .attr("x1", d => Math.round(x(d)) + 0.5).attr("x2", d => Math.round(x(d)) + 0.5)
    .attr("y1", top).attr("y2", bottom);
  grid.selectAll("line.gy").data(p.yTicks).enter().append("line")
    .attr("y1", d => Math.round(y(d)) + 0.5).attr("y2", d => Math.round(y(d)) + 0.5)
    .attr("x1", left).attr("x2", right);

  const line = d3.line().x(d => x(d[0])).y(d => y(d[1]));
  const plot = g.append("g").attr("clip-path", `url(#${clipId})`)
    .attr("fill", "none").attr("stroke-linejoin", "round");

  plot.selectAll("path.gray").data(p.gray).enter().append("path")
    .attr("d", line)
    .attr("stroke", (d, j) => p.darker.includes(j) ? "#8a8a8a" : "#ababab")
    .attr("stroke-width", 1);

  plot.append("line")
    .attr("x1", left).attr("x2", right)
    .attr("y1", y(0)).attr("y2", y(0))
    .attr("stroke", p.zeroCol).attr("stroke-width", p.zeroW);

  plot.append("path").attr("d", line(p.worst)).attr("stroke", "#ff0000").attr("stroke-width", 1.1);
  plot.append("path").attr("d", line(p.second)).attr("stroke", "#0000ff").attr("stroke-width", 1.1);
  plot.append("path").attr("d", line(p.best)).attr("stroke", "#000").attr("stroke-width", 1.1);

  // axes
  const xAxis = g.append("g").attr("transform", `translate(0,${bottom})`)
    .call(d3.axisBottom(x).tickValues(p.xTicks).tickSize(5).tickSizeOuter(0).tickFormat(d3.format("d")));
  xAxis.select(".domain").remove();
  xAxis.selectAll("text").attr("y", 16.5).attr("dy", 0)
    .attr("font-size", fontTick).attr("fill", "#000")
    .style("font-family", "'Liberation Sans', Arial, sans-serif");

  const yAxis = g.append("g").attr("transform", `translate(${left},0)`)
    .call(d3.axisLeft(y).tickValues(p.yTicks).tickSize(5).tickSizeOuter(0)
      .tickFormat(d => p.yLabels.some(v => Math.abs(v - d) < 1e-9) ? label(d) : ""));
  yAxis.select(".domain").remove();
  yAxis.selectAll("text")
    .attr("transform", "rotate(-90)")
    .attr("x", 0).attr("y", -10.6).attr("dy", 0)
    .attr("text-anchor", "middle")
    .attr("font-size", fontTick).attr("fill", "#000")
    .style("font-family", "'Liberation Sans', Arial, sans-serif");

  // frame
  g.append("rect")
    .attr("x", left).attr("y", top).attr("width", right - left).attr("height", plotH)
    .attr("fill", "none").attr("stroke", "#222").attr("stroke-width", 1.2);

  // legend
  const legH = 71;
  const lg = g.append("g");
  const box = lg.append("rect")
    .attr("x", left).attr("y", bottom - legH).attr("height", legH)
    .attr("fill", "#fff").attr("stroke", "#222").attr("stroke-width", 1.2);
  const legCols = ["#000", "#0000ff", "#ff0000"];
  let maxW = 0;
  p.legend.forEach((txt, k) => {
    const cy = bottom - legH + 17.3 + k * 18.3;
    lg.append("line")
      .attr("x1", left + 13.4).attr("x2", left + 40.4)
      .attr("y1", Math.round(cy)).attr("y2", Math.round(cy))
      .attr("stroke", legCols[k]).attr("stroke-width", 1);
    const t = lg.append("text")
      .attr("x", left + 53.4).attr("y", cy + 5.2)
      .attr("font-size", fontLegend).attr("fill", "#000")
      .text(txt);
    maxW = Math.max(maxW, t.node().getComputedTextLength());
  });
  box.attr("width", 53.4 + maxW + 9);

  // title
  g.append("text")
    .attr("x", (left + right) / 2).attr("y", top - 5)
    .attr("text-anchor", "middle")
    .attr("font-size", fontTitle).attr("font-weight", "bold")
    .text(p.title);
});
</script>
</body>
</html>
